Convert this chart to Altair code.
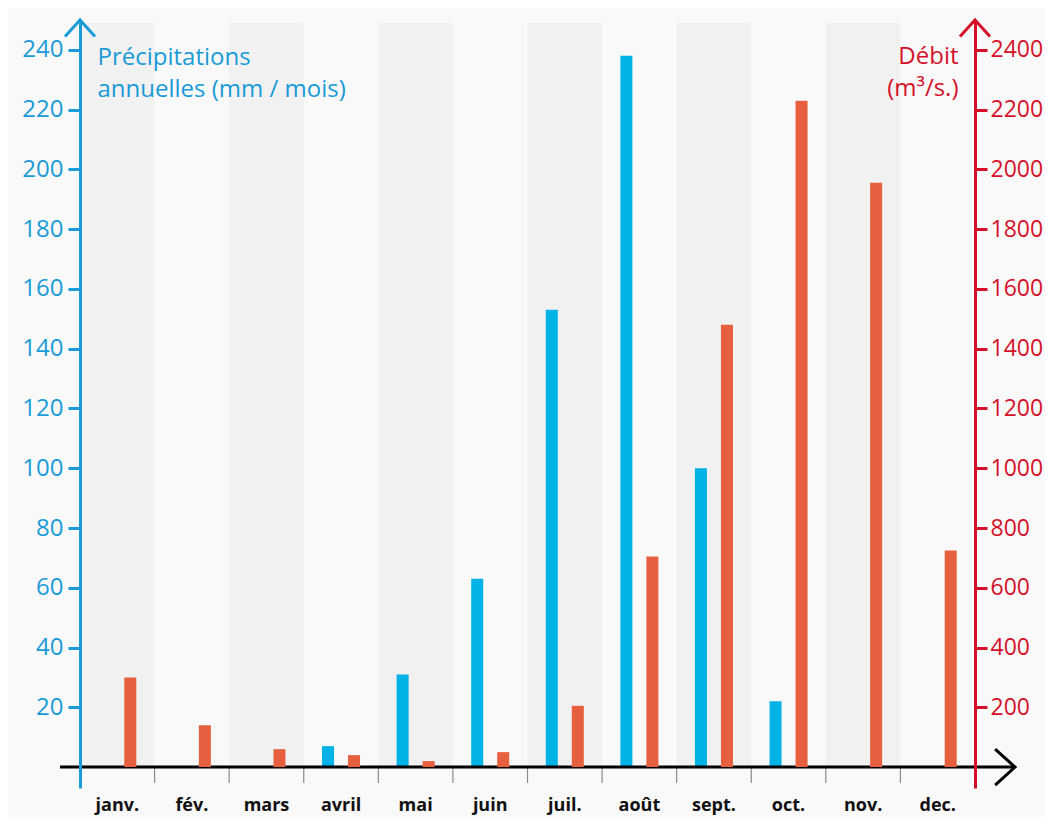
import altair as alt
import pandas as pd

# ---- data ----
months = ["janv.", "fév.", "mars", "avril", "mai", "juin",
          "juil.", "août", "sept.", "oct.", "nov.", "dec."]
precip = [0, 0, 0, 7, 31, 63, 153, 238, 100, 22, 0, 0]          # mm / mois
debit = [300, 140, 60, 40, 20, 50, 205, 705, 1480, 2230, 1955, 725]  # m3/s
left_ticks = [20, 40, 60, 80, 100, 120, 140, 160, 180, 200, 220, 240]
right_ticks = [200, 400, 600, 800, 1000, 1200, 1400, 1600, 1800, 2000, 2200, 2400]

BLUE_BAR = "#00b2e5"
RED_BAR = "#e6603f"
BLUE_AX = "#1a9bd7"
RED_AX = "#d5112a"
FONT = "Open Sans"

df = pd.DataFrame({"mois": months, "precip": precip, "debit": debit,
                   "idx": list(range(len(months)))})
df["bande"] = ["sombre" if i % 2 == 0 else "clair" for i in range(len(months))]
one = alt.Data(values=[{}])

W, H = 895, 768

x_axis = alt.Axis(orient="bottom", ticks=False, domain=False, labelAngle=0,
                  labelFont=FONT, labelFontSize=18, labelFontWeight="bold",
                  labelColor="#111111", labelPadding=8, title=None)
x_scale = alt.Scale(domain=months, paddingInner=0, paddingOuter=0)


def X(**kw):
    return alt.X("mois:N", sort=months, scale=x_scale, axis=x_axis, title=None, **kw)


xoff = alt.XOffset("serie:N", scale=alt.Scale(domain=["P", "D"], paddingInner=0.538,
                                              paddingOuter=0.703), title=None)

lscale = alt.Scale(domain=[-7, 250], nice=False, zero=False)
laxis = alt.Axis(orient="left", values=left_ticks, format="d", domainColor=BLUE_AX,
                 domainWidth=3, tickColor=BLUE_AX, tickWidth=3, tickSize=12,
                 labelColor=BLUE_AX, labelFont=FONT, labelFontSize=24, labelPadding=5,
                 grid=False, zindex=1,
                 title=["Précipitations", "annuelles (mm / mois)"], titleX=17, titleY=44,
                 titleAngle=0, titleAlign="left", titleBaseline="alphabetic",
                 titleColor=BLUE_AX, titleFont=FONT, titleFontSize=24,
                 titleFontWeight="normal", titleLineHeight=32)

rscale = alt.Scale(domain=[-70, 2500], nice=False, zero=False)
raxis = alt.Axis(orient="right", values=right_ticks, format="d", domainColor=RED_AX,
                 domainWidth=3, tickColor=RED_AX, tickWidth=3, tickSize=12,
                 labelColor=RED_AX, labelFont=FONT, labelFontSize=23, labelPadding=3,
                 grid=False, zindex=1,
                 title=["Débit", "(m³/s.)"], titleX=-17, titleY=43,
                 titleAngle=0, titleAlign="right", titleBaseline="alphabetic",
                 titleColor=RED_AX, titleFont=FONT, titleFontSize=24,
                 titleFontWeight="normal", titleLineHeight=32)


def YL(v):
    return alt.YDatum(v, scale=lscale, axis=laxis)


bands = alt.Chart(df).mark_rect().encode(
    x=X(), y=YL(0), y2=alt.datum(249),
    color=alt.Color("bande:N", scale=alt.Scale(domain=["sombre", "clair"],
                                               range=["#f1f1f1", "#f9f9f9"]), legend=None),
)

seps = alt.Chart(df[df.idx > 0]).mark_rule(color="#8a8a8a", strokeWidth=1.2).encode(
    x=X(bandPosition=0), y=YL(0), y2=alt.datum(-5.3)
)

blue_bars = alt.Chart(df[df.precip > 0]).transform_calculate(serie="'P'").mark_bar(
    color=BLUE_BAR).encode(
    x=X(), xOffset=xoff,
    y=alt.Y("precip:Q", scale=lscale, axis=laxis), y2=alt.datum(0),
)

zero_line = alt.Chart(one).mark_rule(color="#000000", strokeWidth=3).encode(
    x=alt.value(-20), x2=alt.value(935), y=YL(0)
)

chevron = "M-1,1.1L0,0L1,1.1"
arrow_l = alt.Chart(one).mark_point(shape=chevron, filled=False, size=900, strokeWidth=3,
                                    color=BLUE_AX, opacity=1).encode(
    x=alt.value(0), y=alt.value(0))
arrow_r = alt.Chart(one).mark_point(shape=chevron, filled=False, size=900, strokeWidth=3,
                                    color=RED_AX, opacity=1).encode(
    x=alt.value(W), y=alt.value(0))
arrow_x = alt.Chart(one).mark_point(shape=chevron, filled=False, size=1300, strokeWidth=3,
                                    color="#000000", opacity=1, angle=90).encode(
    x=alt.value(935), y=YL(0))

left_group = alt.layer(bands, seps, blue_bars, zero_line, arrow_l, arrow_r, arrow_x)

red_bars = alt.Chart(df).transform_calculate(serie="'D'").mark_bar(color=RED_BAR).encode(
    x=X(), xOffset=xoff,
    y=alt.Y("debit:Q", scale=rscale, axis=raxis), y2=alt.datum(0),
)

chart = alt.layer(left_group, red_bars).resolve_scale(y="independent").properties(
    width=W, height=H,
    autosize=alt.AutoSizeParams(type="none"),
    padding={"left": 72, "top": 12, "right": 70, "bottom": 29},
    background="#f9f9f9",
).configure_view(stroke=None)

chart.save("out.html", embed_options={"renderer": "svg", "actions": False})
